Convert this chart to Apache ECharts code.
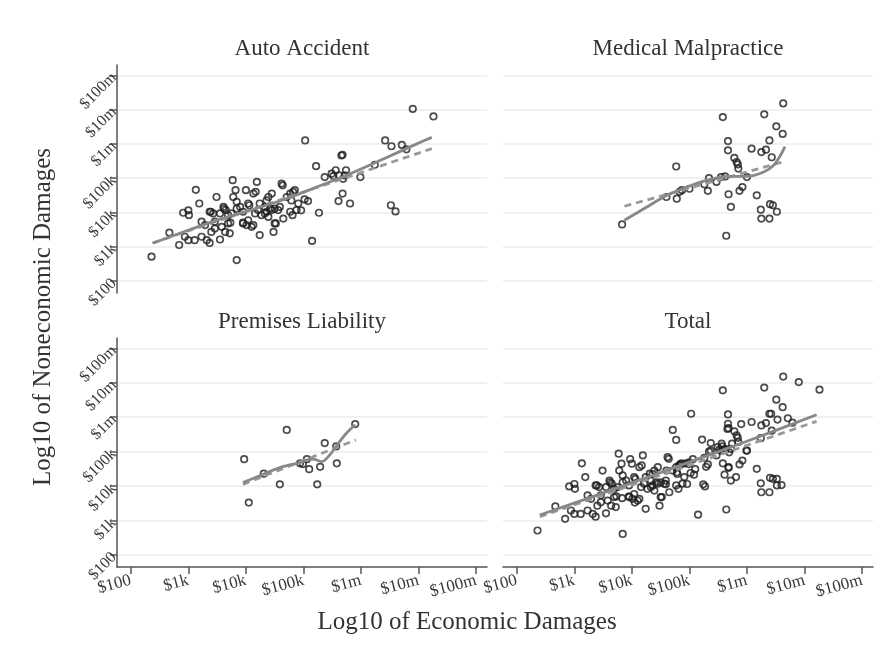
<!DOCTYPE html>
<html>
<head>
<meta charset="utf-8">
<script src="https://cdn.jsdelivr.net/npm/echarts@6/dist/echarts.min.js"></script>
<style>html,body{margin:0;padding:0;background:#fff}#c{width:892px;height:652px}</style>
</head>
<body>
<div id="c"></div>
<script>
// values are log10 of dollars: [economic, noneconomic]
const panelTitles = ['Auto Accident', 'Medical Malpractice', 'Premises Liability', 'Total'];
const tickValues = [2, 3, 4, 5, 6, 7, 8];
const tickLabels = ['$100', '$1k', '$10k', '$100k', '$1m', '$10m', '$100m'];
const xTitle = 'Log10 of Economic Damages';
const yTitle = 'Log10 of Noneconomic Damages';

const autoPoints = [
  [2.36,2.71],[2.84,3.05],[2.67,3.41],[2.94,3.29],[3.00,3.19],[3.11,3.19],[3.13,4.66],[3.19,4.26],
  [2.91,3.99],[3.00,4.06],[3.01,3.92],[3.23,3.73],[3.29,3.63],[3.23,3.29],[3.32,3.19],[3.37,3.11],
  [3.40,3.43],[3.46,3.53],[3.49,4.45],[3.39,4.02],[3.43,3.97],[3.55,3.97],[3.55,3.21],[3.61,4.16],
  [3.65,4.07],[3.69,3.92],[3.69,3.68],[3.64,3.43],[3.72,3.39],[3.58,3.58],[3.77,4.94],[3.82,4.65],
  [3.78,4.45],[3.84,2.61],[3.84,4.31],[3.90,4.16],[3.95,4.02],[3.95,3.68],[4.01,3.63],[4.04,3.77],
  [4.00,4.65],[4.06,4.21],[4.13,4.55],[4.17,4.60],[4.19,4.89],[4.16,3.97],[4.21,4.07],[4.13,3.63],
  [4.24,3.34],[4.24,4.26],[4.33,4.16],[4.36,4.35],[4.39,4.45],[4.45,4.55],[4.33,3.97],[4.39,3.87],
  [4.45,4.07],[4.50,4.11],[4.48,3.43],[4.50,3.68],[4.56,4.07],[4.59,4.16],[4.65,3.82],[4.62,4.84],
  [4.64,4.79],[4.71,4.45],[4.77,4.55],[4.79,4.35],[4.82,4.60],[4.85,4.65],[4.81,3.92],[4.88,4.07],
  [4.91,4.26],[3.75,3.97],[3.84,4.11],[4.10,3.58],[4.27,3.92],[4.36,4.02],[4.42,4.11],[4.52,3.68],
  [4.77,4.02],[4.04,4.26],[3.37,4.02],[3.62,4.11],[3.73,3.70],[3.95,3.70],[3.46,3.73],
  [4.96,4.06],[5.02,4.38],[5.08,4.33],[5.03,6.10],[5.22,5.35],[5.37,5.03],[5.49,5.13],[5.52,5.06],
  [5.56,5.23],[5.62,5.08],[5.66,5.66],[5.68,5.68],[5.69,4.98],[5.74,5.23],[5.72,5.08],[5.68,4.55],
  [5.61,4.33],[5.81,4.26],[5.99,5.03],[6.24,5.39],[6.42,6.10],[6.53,5.93],[6.71,5.97],[6.79,5.84],
  [6.52,4.21],[6.60,4.03],[6.90,7.02],[7.26,6.80],[5.27,3.99],[5.15,3.17]
];
const medicalPoints = [
  [3.83,3.65],[4.77,5.34],[4.60,4.45],[4.78,4.40],[4.83,4.60],[4.87,4.65],[5.00,4.69],[5.26,4.82],
  [5.32,4.63],[5.34,5.00],[5.47,4.89],[5.55,5.03],[5.62,5.05],[5.58,6.78],[5.67,6.08],[5.67,5.81],
  [5.78,5.59],[5.82,5.47],[5.84,5.40],[5.85,5.28],[5.68,4.53],[5.72,4.16],[5.64,3.32],[5.87,4.63],
  [5.92,4.74],[6.00,5.03],[6.08,5.86],[6.17,4.50],[6.25,5.76],[6.33,5.83],[6.30,6.86],[6.43,5.61],
  [6.39,6.10],[6.51,6.51],[6.62,6.29],[6.63,7.18],[6.24,4.08],[6.25,3.82],[6.39,3.82],[6.40,4.24],
  [6.45,4.21],[6.52,4.02]
];
const premisesPoints = [
  [3.97,4.78],[4.05,3.52],[4.31,4.36],[4.59,4.05],[4.71,5.63],[4.94,4.66],[4.99,4.64],[5.06,4.78],
  [5.10,4.49],[5.24,4.05],[5.29,4.56],[5.37,5.25],[5.57,5.15],[5.58,4.66],[5.90,5.80]
];
const totalPoints = autoPoints.concat(medicalPoints, premisesPoints);

const autoLowess = [[2.38,3.10],[2.91,3.43],[3.49,3.77],[4.07,4.06],[4.65,4.37],[5.23,4.74],[5.81,5.13],[6.39,5.56],[6.97,6.00],[7.23,6.19]];
const autoLinear = [[2.38,3.11],[7.23,5.86]];
const medicalLowess = [[3.87,3.77],[4.26,4.16],[4.61,4.50],[4.96,4.74],[5.30,4.94],[5.65,5.05],[6.00,5.05],[6.29,5.18],[6.46,5.37],[6.58,5.66],[6.66,5.92]];
const medicalLinear = [[3.87,4.18],[6.68,5.50]];
const premisesLowess = [[3.95,4.10],[4.31,4.35],[4.65,4.57],[4.94,4.68],[5.06,4.76],[5.17,4.78],[5.32,4.71],[5.46,4.91],[5.61,5.25],[5.75,5.54],[5.90,5.78]];
const premisesLinear = [[3.95,4.05],[5.91,5.34]];
const totalLowess = [[2.40,3.16],[3.69,3.91],[4.84,4.60],[6.00,5.30],[7.21,6.07]];
const totalLinear = [[2.40,3.11],[7.21,5.88]];

const panelPoints = [autoPoints, medicalPoints, premisesPoints, totalPoints];
const panelLowess = [autoLowess, medicalLowess, premisesLowess, totalLowess];
const panelLinear = [autoLinear, medicalLinear, premisesLinear, totalLinear];

const FONT = '"Liberation Serif", "Times New Roman", serif';
const grids = [
  {left: 117, top: 65, width: 370, height: 228},
  {left: 503, top: 65, width: 370, height: 228},
  {left: 117, top: 338, width: 370, height: 229},
  {left: 503, top: 338, width: 370, height: 229}
];
const fmt = v => { const i = tickValues.indexOf(Math.round(v * 1000) / 1000); return i >= 0 ? tickLabels[i] : ''; };
const axisColor = '#555';

const xAxes = grids.map((g, i) => {
  const bottom = i >= 2;
  return {
    gridIndex: i, type: 'value', min: 1.76, max: 8.19,
    axisLine: {show: bottom, onZero: false, lineStyle: {color: axisColor, width: 1.5}},
    axisTick: {show: bottom, customValues: tickValues, length: 7, lineStyle: {color: axisColor, width: 1.5}},
    axisLabel: {show: bottom, customValues: tickValues, rotate: 15, margin: 13, formatter: fmt,
      fontFamily: FONT, fontSize: 17, color: '#3a3a3a'},
    splitLine: {show: false}
  };
});
const yAxes = grids.map((g, i) => {
  const left = i % 2 === 0;
  return {
    gridIndex: i, type: 'value', min: 1.65, max: 8.3,
    axisLine: {show: left, onZero: false, lineStyle: {color: axisColor, width: 1.5}},
    axisTick: {show: left, customValues: tickValues, length: 7, lineStyle: {color: axisColor, width: 1.5}},
    axisLabel: {show: left, customValues: tickValues, rotate: 45, margin: 3, formatter: fmt,
      fontFamily: FONT, fontSize: 16, color: '#3a3a3a'},
    splitLine: {show: true, lineStyle: {color: '#ececec', width: 1.5}}
  };
});

const series = [];
for (let i = 0; i < 4; i++) {
  series.push({
    type: 'scatter', xAxisIndex: i, yAxisIndex: i, data: panelPoints[i],
    symbol: 'circle', symbolSize: 6.5, z: 2,
    itemStyle: {color: 'rgba(0,0,0,0)', borderColor: '#1e1e1e', borderWidth: 1.7}
  });
  series.push({
    type: 'line', xAxisIndex: i, yAxisIndex: i, data: panelLinear[i], showSymbol: false, z: 3,
    lineStyle: {color: '#999', width: 2.8, type: [7, 5]}
  });
  series.push({
    type: 'line', xAxisIndex: i, yAxisIndex: i, data: panelLowess[i], showSymbol: false, smooth: 0.3, z: 4,
    lineStyle: {color: '#888', width: 2.8}
  });
}

const graphics = grids.map((g, i) => ({
  type: 'text', x: g.left + g.width / 2, y: i < 2 ? 49 : 322,
  style: {text: panelTitles[i], fontFamily: FONT, fontSize: 23, fill: '#333', align: 'center', verticalAlign: 'middle'}
}));
graphics.push({type: 'text', x: 467, y: 622,
  style: {text: xTitle, fontFamily: FONT, fontSize: 25, fill: '#333', align: 'center', verticalAlign: 'middle'}});
graphics.push({type: 'text', x: 43, y: 317, rotation: Math.PI / 2,
  style: {text: yTitle, fontFamily: FONT, fontSize: 25, fill: '#333', align: 'center', verticalAlign: 'middle'}});

const chart = echarts.init(document.getElementById('c'), null, {renderer: 'canvas'});
chart.setOption({
  animation: false,
  backgroundColor: '#fff',
  grid: grids,
  xAxis: xAxes,
  yAxis: yAxes,
  series: series,
  graphic: graphics
});
</script>
</body>
</html>
